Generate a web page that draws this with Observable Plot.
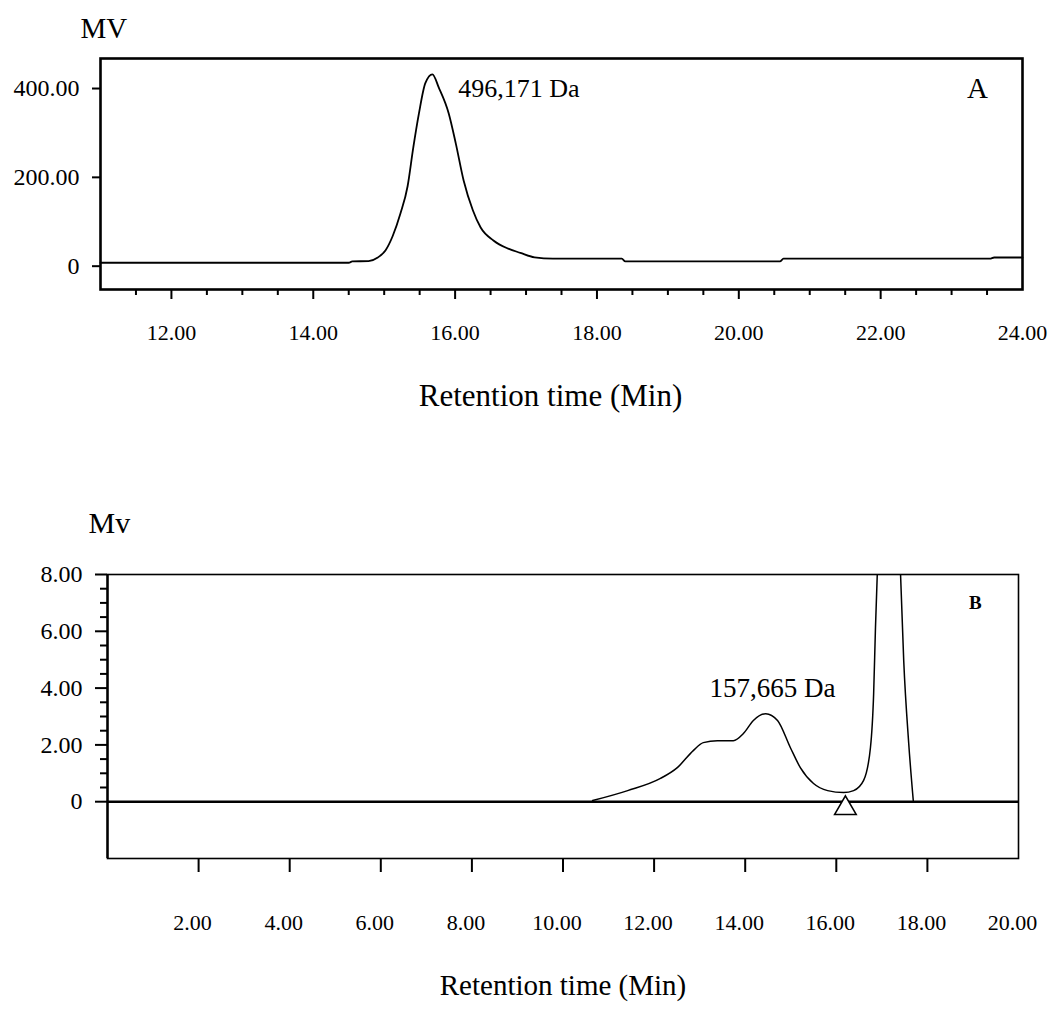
<!DOCTYPE html>
<html><head><meta charset="utf-8">
<script src="https://cdn.jsdelivr.net/npm/d3@7"></script>
<script src="https://cdn.jsdelivr.net/npm/@observablehq/plot@0.6"></script>
<style>
html,body{margin:0;padding:0;background:#fff;}
#root{width:1055px;height:1010px;overflow:hidden;}
svg{display:block;}
</style></head><body><div id="root"></div>
<script>
// ---- Panel A data ----
const timeA = [11.0, 14.50, 14.55, 14.78, 14.91, 15.02, 15.12, 15.23, 15.33, 15.41, 15.49, 15.58, 15.68, 15.77, 15.91, 16.01, 16.12, 16.25, 16.36, 16.54, 16.74, 16.92, 17.12, 17.38, 18.35, 18.40, 20.58, 20.63, 23.54, 23.60, 24.0];
const mvA   = [7.7, 7.7, 10.6, 11.5, 19.6, 36, 68, 119, 180, 267, 344, 412, 432, 402, 344, 276, 193, 126, 87, 58, 40, 30, 20, 17, 17, 10.6, 10.6, 17, 17, 19.6, 19.6];
const xTicksA = [12, 14, 16, 18, 20, 22];
const xLabelsA = [12, 14, 16, 18, 20, 22, 24];
const xMinorA = [11.5, 12.5, 13, 13.5, 14.5, 15, 15.5, 16.5, 17, 17.5, 18.5, 19, 19.5, 20.5, 21, 21.5, 22.5, 23, 23.5];
const yTicksA = [0, 200, 400];
const peakLabelA = [{time: 16.9, mv: 400, text: "496,171 Da"}];
const panelA = [{time: 23.0, mv: 400, text: "A"}];

// ---- Panel B data ----
const timeB = [10.65, 11.42, 12.14, 12.51, 12.86, 13.08, 13.39, 13.74, 13.96, 14.18, 14.45, 14.71, 14.99, 15.21, 15.50, 15.81, 16.16, 16.38, 16.60, 16.75, 16.82, 16.86, 16.90, 16.95, 17.38, 17.41, 17.48, 17.59, 17.69];
const mvB   = [0.04, 0.39, 0.82, 1.20, 1.80, 2.08, 2.15, 2.15, 2.40, 2.86, 3.10, 2.86, 1.91, 1.20, 0.64, 0.39, 0.32, 0.39, 0.75, 1.91, 3.81, 6.13, 8.03, 9.5, 9.5, 8.03, 4.97, 2.05, 0.04];
const xTicksB = [2, 4, 6, 8, 10, 12, 14, 16, 18];
const xLabelsB = [2, 4, 6, 8, 10, 12, 14, 16, 18, 20];
const yTicksB = [0, 2, 4, 6, 8];
const yMinorB = [0.5, 1, 1.5, 2.5, 3, 3.5, 4.5, 5, 5.5, 6.5, 7, 7.5];
const markerB = [{time: 16.2, mv: -0.23}];
const peakLabelB = [{time: 14.6, mv: 4.0, text: "157,665 Da"}];
const panelB = [{time: 19.05, mv: 7.0, text: "B"}];

const FONT = "'Liberation Serif', 'DejaVu Serif', serif";
const fmt2 = d => d === 0 ? "0" : d3.format(".2f")(d);

const dataA = timeA.map((t, i) => ({time: t, mv: mvA[i]}));
const dataB = timeB.map((t, i) => ({time: t, mv: mvB[i]}));

// ---- Panel A ----
const plotA = Plot.plot({
  width: 1055,
  height: 440,
  marginLeft: 100,
  marginRight: 33,
  marginTop: 58,
  marginBottom: 151,
  style: {fontFamily: FONT, color: "black", background: "white"},
  x: {domain: [11, 24], axis: null},
  y: {domain: [-52.5, 467.6], axis: null},
  marks: [
    Plot.axisX({ticks: xMinorA, tickSize: 6, tickFormat: () => "", strokeWidth: 2, label: null}),
    Plot.axisX({ticks: xTicksA, tickSize: 10, tickFormat: () => "", strokeWidth: 2, label: null}),
    Plot.axisX({ticks: xLabelsA, tickSize: 0, tickPadding: 35, tickFormat: fmt2, fontSize: 22, label: null}),
    Plot.axisY({ticks: yTicksA, tickSize: 8, tickPadding: 13, tickFormat: fmt2, fontSize: 24, strokeWidth: 2, label: null}),
    Plot.frame({stroke: "black", strokeWidth: 2.6}),
    Plot.line(dataA, {x: "time", y: "mv", curve: "monotone-x", stroke: "black", strokeWidth: 1.8}),
    Plot.text(peakLabelA, {x: "time", y: "mv", text: "text", fontSize: 26, textAnchor: "middle", fill: "black"}),
    Plot.text(panelA, {x: "time", y: "mv", text: "text", fontSize: 29, textAnchor: "middle", fill: "black", dx: 26}),
    Plot.text(["MV"], {frameAnchor: "top-left", text: d => d, dx: -20, dy: -30, fontSize: 29, textAnchor: "start", lineAnchor: "middle", fill: "black"}),
    Plot.text(["Retention time (Min)"], {frameAnchor: "bottom", text: d => d, dx: -11, dy: 107, fontSize: 31, textAnchor: "middle", lineAnchor: "middle", fill: "black"})
  ]
});

// ---- Panel B ----
const plotB = Plot.plot({
  width: 1055,
  height: 570,
  marginLeft: 107,
  marginRight: 37,
  marginTop: 134,
  marginBottom: 152,
  style: {fontFamily: FONT, color: "black", background: "white"},
  x: {domain: [0, 20], axis: null},
  y: {domain: [-2, 8], axis: null},
  marks: [
    Plot.axisX({ticks: xTicksB, tickSize: 14, tickFormat: () => "", strokeWidth: 2, label: null}),
    Plot.axisX({ticks: xLabelsB, tickSize: 0, tickPadding: 56, tickFormat: fmt2, fontSize: 22, dx: -6, label: null}),
    Plot.axisY({ticks: yMinorB, tickSize: 7, tickFormat: () => "", strokeWidth: 2, label: null}),
    Plot.axisY({ticks: yTicksB, tickSize: 12, tickPadding: 13, tickFormat: fmt2, fontSize: 24, strokeWidth: 2, label: null}),
    Plot.frame({stroke: "black", strokeWidth: 1.6}),
    Plot.ruleX([0], {stroke: "black", strokeWidth: 2.4}),
    Plot.ruleY([0], {stroke: "black", strokeWidth: 2.4}),
    Plot.line(dataB, {x: "time", y: "mv", curve: "monotone-x", stroke: "black", strokeWidth: 1.5, clip: true}),
    Plot.dot(markerB, {x: "time", y: "mv", symbol: "triangle", r: 8, fill: "white", stroke: "black", strokeWidth: 1.6}),
    Plot.text(peakLabelB, {x: "time", y: "mv", text: "text", fontSize: 27, textAnchor: "middle", fill: "black"}),
    Plot.text(panelB, {x: "time", y: "mv", text: "text", fontSize: 19, fontWeight: "bold", textAnchor: "middle", fill: "black"}),
    Plot.text(["Mv"], {frameAnchor: "top-left", text: d => d, dx: -19, dy: -51, fontSize: 30, textAnchor: "start", lineAnchor: "middle", fill: "black"}),
    Plot.text(["Retention time (Min)"], {frameAnchor: "bottom", text: d => d, dx: 0, dy: 127, fontSize: 29, textAnchor: "middle", lineAnchor: "middle", fill: "black"})
  ]
});

const root = document.getElementById("root");
root.appendChild(plotA);
root.appendChild(plotB);
</script>
</body></html>
